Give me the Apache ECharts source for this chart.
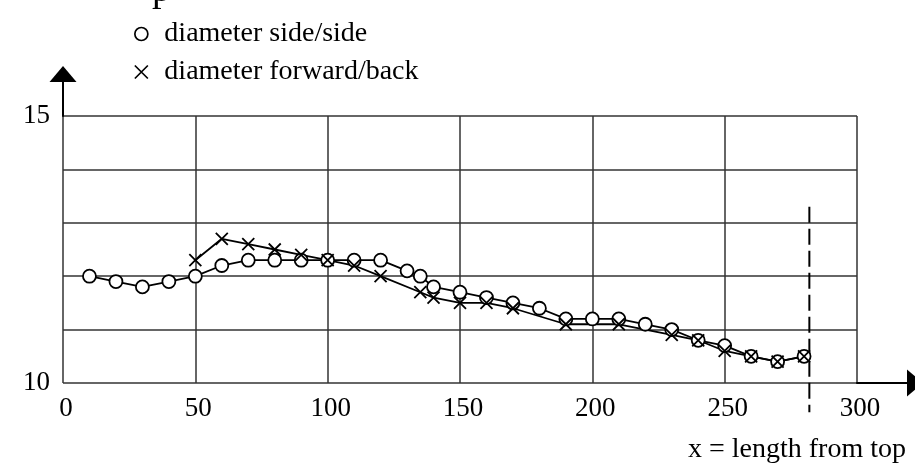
<!DOCTYPE html>
<html>
<head>
<meta charset="utf-8">
<script src="https://cdn.jsdelivr.net/npm/echarts@6/dist/echarts.min.js"></script>
<style>
html,body{margin:0;padding:0;background:#fff;}
#c{width:915px;height:468px;}
</style>
</head>
<body>
<div id="c"></div>
<script>
// ---- data ----
const sideName = 'diameter side/side';
const fwdName = 'diameter forward/back';
const sideX = [10,20,30,40,50,60,70,80,90,100,110,120,130,135,140,150,160,170,180,190,200,210,220,230,240,250,260,270,280];
const sideY = [12.0,11.9,11.8,11.9,12.0,12.2,12.3,12.3,12.3,12.3,12.3,12.3,12.1,12.0,11.8,11.7,11.6,11.5,11.4,11.2,11.2,11.2,11.1,11.0,10.8,10.7,10.5,10.4,10.5];
const fwdX = [50,60,70,80,90,100,110,120,135,140,150,160,170,190,210,230,240,250,260,270,280];
const fwdY = [12.3,12.7,12.6,12.5,12.4,12.3,12.2,12.0,11.7,11.6,11.5,11.5,11.4,11.1,11.1,10.9,10.8,10.6,10.5,10.4,10.5];
const xTicks = [0,50,100,150,200,250,300];
const yTickLabels = [10, 15];
const dashX = [282, 282];
const dashY = [13.3, 9.45];
const axisName = 'x = length from top';
const titleFragment = 'p';

const FONT = '"Liberation Serif", "Times New Roman", serif';
const crossPath = 'path://M0,0L10,10M10,0L0,10';
const gridLine = {show:true, lineStyle:{color:'#333', width:1.5}};

const chart = echarts.init(document.getElementById('c'), null, {renderer:'canvas'});
const option = {
  backgroundColor:'#fff',
  animation:false,
  graphic:[
    {type:'text', left:152, top:-28, silent:true, style:{text:titleFragment, font:'38px ' + FONT, fill:'#000'}},
    {type:'text', left:688, top:436, silent:true, style:{text:axisName, font:'28px ' + FONT, fill:'#000'}}
  ],
  legend:{
    orient:'vertical', left:129, top:14, itemWidth:36, itemHeight:13, itemGap:8,
    selectedMode:false,
    textStyle:{fontFamily:FONT, fontSize:28, color:'#000', lineHeight:30},
    data:[
      {name:sideName, icon:'circle', itemStyle:{color:'#fff', borderColor:'#000', borderWidth:1.7}},
      {name:fwdName, icon:crossPath, itemStyle:{color:'#000', borderColor:'#000', borderWidth:1.7}}
    ]
  },
  grid:[
    {left:63, right:58, top:116, bottom:85},
    {left:63, top:74, height:42, width:10},
    {left:857, width:69, top:300, bottom:85}
  ],
  xAxis:[
    {gridIndex:0, type:'value', min:xTicks[0], max:xTicks[xTicks.length-1], interval:xTicks[1]-xTicks[0],
     axisLine:{show:false}, axisTick:{show:false}, splitLine:gridLine,
     axisLabel:{fontFamily:FONT, fontSize:27, color:'#000', margin:12, padding:[0,0,0,6]}},
    {gridIndex:1, type:'value', show:false},
    {gridIndex:2, type:'value', min:0, max:1,
     axisLine:{show:true, onZero:false, symbol:['none','triangle'], symbolSize:[27,16], lineStyle:{color:'#000', width:2}},
     axisTick:{show:false}, axisLabel:{show:false}, splitLine:{show:false}}
  ],
  yAxis:[
    {gridIndex:0, type:'value', min:yTickLabels[0], max:yTickLabels[1], interval:1,
     axisLine:{show:false}, axisTick:{show:false}, splitLine:gridLine,
     axisLabel:{fontFamily:FONT, fontSize:27, color:'#000', margin:13,
       formatter:v => yTickLabels.includes(v) ? String(v) : ''}},
    {gridIndex:1, type:'value', min:0, max:1,
     axisLine:{show:true, onZero:false, symbol:['none','triangle'], symbolSize:[27,16], lineStyle:{color:'#000', width:2}},
     axisTick:{show:false}, axisLabel:{show:false}, splitLine:{show:false}},
    {gridIndex:2, type:'value', show:false}
  ],
  series:[
    {type:'line', name:'dash', xAxisIndex:0, yAxisIndex:0, clip:false, silent:true,
     data:dashX.map((x,i)=>[x, dashY[i]]), symbol:'none',
     lineStyle:{type:[16,6], color:'#000', width:2},
     emphasis:{disabled:true}
    },
    {type:'line', name:sideName, xAxisIndex:0, yAxisIndex:0, clip:false,
     data:sideX.map((x,i)=>[x, sideY[i]]),
     symbol:'circle', symbolSize:13,
     itemStyle:{color:'#fff', borderColor:'#000', borderWidth:1.8},
     lineStyle:{color:'#000', width:1.8},
     emphasis:{disabled:true}
    },
    {type:'line', name:fwdName, xAxisIndex:0, yAxisIndex:0, clip:false,
     data:fwdX.map((x,i)=>[x, fwdY[i]]),
     symbol:crossPath, symbolSize:12,
     itemStyle:{color:'#000', borderColor:'#000', borderWidth:1.8},
     lineStyle:{color:'#000', width:1.8},
     emphasis:{disabled:true}
    }
  ]
};
chart.setOption(option);
</script>
</body>
</html>
